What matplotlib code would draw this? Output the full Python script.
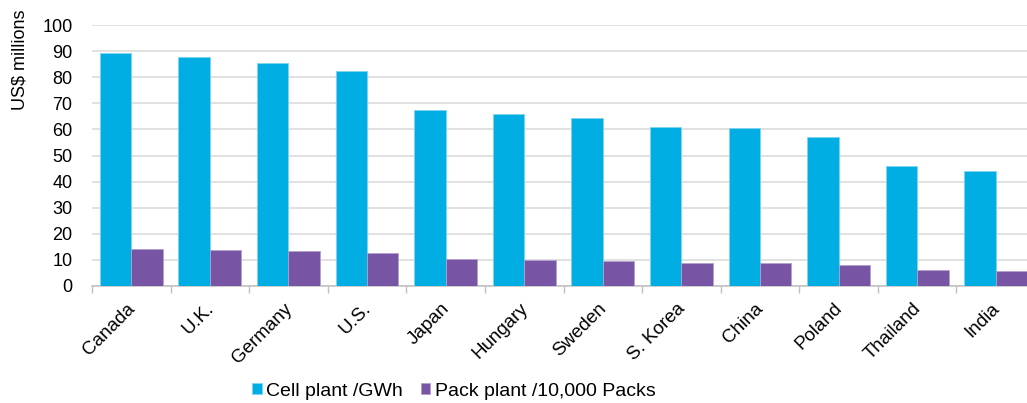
import matplotlib
matplotlib.use("Agg")
import matplotlib.pyplot as plt
import matplotlib.transforms as mtransforms
import numpy as np

countries = ["Canada", "U.K.", "Germany", "U.S.", "Japan", "Hungary", "Sweden",
             "S. Korea", "China", "Poland", "Thailand", "India"]
cell_plant = [89.4, 87.6, 85.4, 82.4, 67.4, 65.9, 64.3, 60.9, 60.6, 57.2, 45.8, 43.9]
pack_plant = [14.2, 13.7, 13.3, 12.8, 10.2, 9.9, 9.5, 8.7, 8.7, 8.2, 6.3, 5.6]
series_names = ["Cell plant /GWh", "Pack plant /10,000 Packs"]
y_ticks = [0, 10, 20, 30, 40, 50, 60, 70, 80, 90, 100]

plt.rcParams["font.family"] = ["Liberation Sans", "DejaVu Sans"]

W, H = 1027, 403
fig = plt.figure(figsize=(W / 100, H / 100), dpi=100)
ax = fig.add_axes([92 / W, (H - 286) / H, 943 / W, 261 / H])

x = np.arange(len(countries))
bw = 0.4
cyan = "#00AEE4"
purple = "#7854A4"
ax.bar(x - bw / 2, cell_plant, bw, color=cyan, edgecolor="#7fd4f0",
       linewidth=0.6, label=series_names[0], zorder=3)
ax.bar(x + bw / 2, pack_plant, bw, color=purple, edgecolor="#b3a0cc",
       linewidth=0.6, label=series_names[1], zorder=3)

ax.set_xlim(-0.5, len(countries) - 0.5)
ax.set_ylim(0, 100)
ax.set_yticks(y_ticks)
ax.yaxis.grid(True, color="#d9d9d9", linewidth=1.1, zorder=0)
ax.set_axisbelow(True)
ax.tick_params(axis="y", length=0, labelsize=13, pad=14)

ax.set_xticks(x)
ax.set_xticklabels(countries, rotation=45, ha="right", rotation_mode="anchor",
                   fontsize=13.5)
ax.tick_params(axis="x", which="major", length=0, pad=10)
ax.set_xticks(np.arange(len(countries) + 1) - 0.5, minor=True)
ax.tick_params(axis="x", which="minor", length=5, color="#bfbfbf", width=1)

# nudge the slanted category labels slightly left
shift = mtransforms.ScaledTranslation(-5 / 100, 0, fig.dpi_scale_trans)
for lbl in ax.get_xticklabels():
    lbl.set_transform(lbl.get_transform() + shift)

for s in ["left", "right", "top"]:
    ax.spines[s].set_visible(False)
ax.spines["bottom"].set_color("#bfbfbf")
ax.spines["bottom"].set_linewidth(1.1)

fig.text(20 / W, 1 - 9 / H, "US$ millions", rotation=90, ha="center",
         va="top", fontsize=13)

fig.legend(loc="center", bbox_to_anchor=(454 / W, 1 - 391 / H), ncol=2,
           frameon=False, fontsize=14, handlelength=0.5, handleheight=0.5,
           handletextpad=0.25, columnspacing=0.9)

fig.savefig("out.png", dpi=100)
